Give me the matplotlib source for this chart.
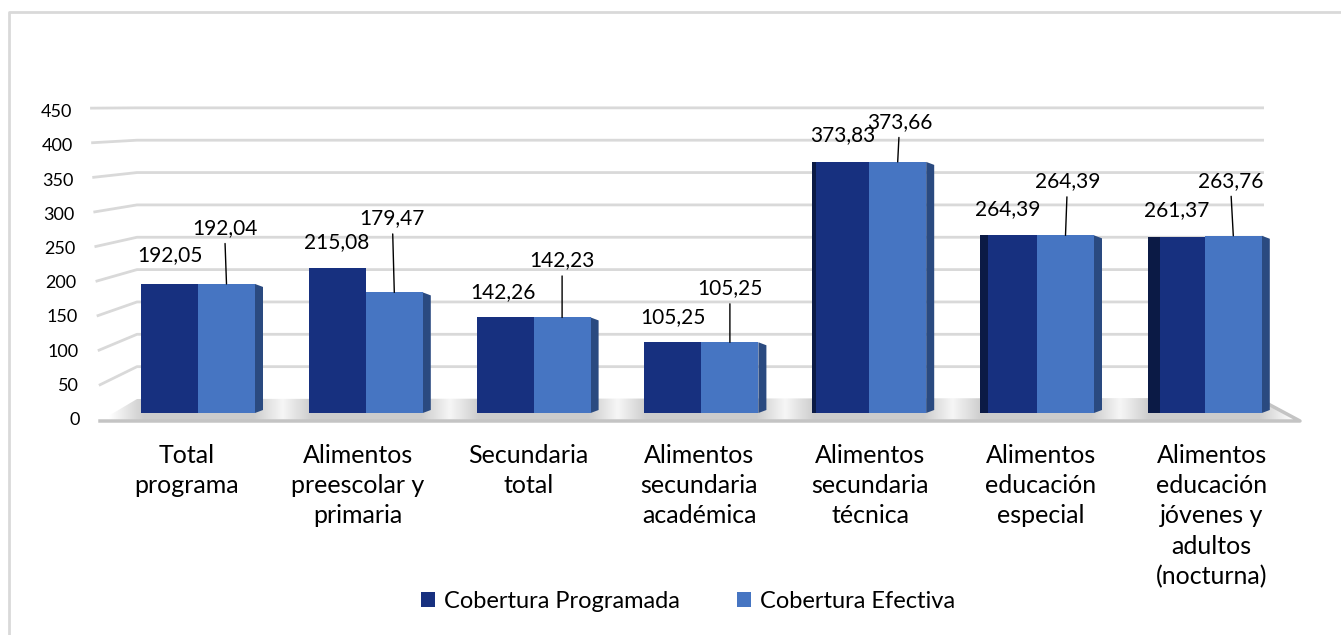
import matplotlib.pyplot as plt
import numpy as np
from matplotlib.patches import Polygon, Patch

plt.rcParams['font.family'] = ['Lato', 'DejaVu Sans']

categorias = ['Total\nprograma', 'Alimentos\npreescolar y\nprimaria', 'Secundaria\ntotal',
              'Alimentos\nsecundaria\nacadémica', 'Alimentos\nsecundaria\ntécnica',
              'Alimentos\neducación\nespecial', 'Alimentos\neducación\njóvenes y\nadultos\n(nocturna)']
programada = [192.05, 215.08, 142.26, 105.25, 373.83, 264.39, 261.37]
efectiva = [192.04, 179.47, 142.23, 105.25, 373.66, 264.39, 263.76]
yticks = [0, 50, 100, 150, 200, 250, 300, 350, 400, 450]
series = ['Cobertura Programada', 'Cobertura Efectiva']

# label offsets (pixels) from top of each bar
off_prog = [(0, -29), (-1, -26), (-2, -25), (0, -25), (2, -27), (-1, -26), (0, -27)]
off_efec = [(-2, -56), (-2, -74), (0, -57), (0, -54), (2, -40), (2, -54), (-3, -55)]

DARK = '#17307f'
LIGHT = '#4675c2'
SIDE = '#2a4a80'
GRID = '#d9d9d9'

W, H = 1341, 635
X0, XS = 198.0, 167.8      # pixel of group 0 centre, pixels per group
Y0, YS = 413.0, 0.672      # pixel of value 0, pixels per unit


def px_x(px):
    return (px - X0) / XS


def px_y(py):
    return (Y0 - py) / YS


fig = plt.figure(figsize=(W / 100, H / 100), dpi=100)
ax = fig.add_axes([0, 0, 1, 1])
ax.set_xlim(px_x(0), px_x(W))
ax.set_ylim(px_y(H), px_y(0))
ax.axis('off')

# outer frame (top and left edges visible)
ax.plot([px_x(9), px_x(9), px_x(W)], [px_y(H), px_y(12), px_y(12)], color='#d9d9d9', lw=2, zorder=0)

# back wall gridlines + left wall
for v in yticks:
    back = 399 - 0.647 * v
    front = 420 - 0.693 * v
    fx = 100 - 0.022 * v
    if v > 0:
        ax.plot([px_x(fx), px_x(137), px_x(1264)], [px_y(front), px_y(back), px_y(back)],
                color=GRID, lw=2, zorder=1, solid_capstyle='butt')
    ax.text(px_x(80 - 8 * v / 450), px_y(420 - 0.684 * v), str(v), ha='right', va='center',
            fontsize=13, color='#000000')

# floor
floor = [(px_x(100), px_y(421)), (px_x(1300), px_y(421)), (px_x(1257), px_y(398)), (px_x(137), px_y(399))]
cols = np.linspace(100, 1300, 600)
centres = X0 + XS * np.arange(len(categorias))
dist = np.min(np.abs(cols[:, None] - centres[None, :]), axis=1)
shade = 0.80 + 0.20 * np.clip((dist - 55) / 35, 0, 1)
img = np.tile(shade, (10, 1))
im = ax.imshow(img, cmap='gray', vmin=0, vmax=1, extent=[px_x(100), px_x(1300), px_y(421), px_y(398)],
               aspect='auto', zorder=2, interpolation='bilinear')
fpoly = Polygon(floor, closed=True, facecolor='none', edgecolor='none')
ax.add_patch(fpoly)
im.set_clip_path(fpoly)
ax.plot([px_x(100), px_x(1300), px_x(1257)], [px_y(421), px_y(421), px_y(398)], color='#c4c4c4', lw=2.5, zorder=3)

# bars
x = np.arange(len(categorias))
bw = 57 / XS
b1 = ax.bar(x - bw / 2, programada, width=bw, color=DARK, zorder=5)
b2 = ax.bar(x + bw / 2, efectiva, width=bw, color=LIGHT, zorder=5)

# side face on the right of light bars, left darker face for right-hand groups
for i, v in enumerate(efectiva):
    xr = x[i] + bw
    d = 8 / XS
    sh = 3 / YS
    ax.add_patch(Polygon([(xr, 0), (xr + d, sh), (xr + d, v - sh), (xr, v)], closed=True,
                         facecolor=SIDE, edgecolor='none', zorder=4))
for i, v in enumerate(programada):
    if i >= 4:
        xl = x[i] - bw
        d = (i - 3) * 4 / XS
        ax.add_patch(Polygon([(xl, 0), (xl + d, 0), (xl + d, v), (xl, v)], closed=True,
                             facecolor='#0b1a45', edgecolor='none', zorder=6))

# data labels
for i in range(len(categorias)):
    dx, dy = off_prog[i]
    ax.annotate(f'{programada[i]:.2f}'.replace('.', ','), (x[i] - bw / 2, programada[i]),
                xytext=(dx * 0.72, -dy * 0.72), textcoords='offset points',
                ha='center', va='center', fontsize=15, zorder=8)
    dx, dy = off_efec[i]
    ax.annotate(f'{efectiva[i]:.2f}'.replace('.', ','), (x[i] + bw / 2, efectiva[i]),
                xytext=(dx * 0.72, -dy * 0.72), textcoords='offset points',
                ha='center', va='center', fontsize=15, zorder=8,
                arrowprops=dict(arrowstyle='-', color='black', lw=1, shrinkA=2, shrinkB=0))

# category labels
for i, lab in enumerate(categorias):
    ax.text(x[i] + px_x(X0 - 11 + 3 * i) - px_x(X0), px_y(444), lab, ha='center', va='top',
            fontsize=18, linespacing=1.38)

# legend
handles = [Patch(facecolor=DARK, edgecolor='none'), Patch(facecolor=LIGHT, edgecolor='none')]
fig.legend(handles, series, loc='center', bbox_to_anchor=(688 / W, 1 - 601 / H), ncol=2,
           frameon=False, fontsize=17, handlelength=0.6, handleheight=0.6, handletextpad=0.4,
           columnspacing=2.4)

fig.savefig('out.png', dpi=100)
